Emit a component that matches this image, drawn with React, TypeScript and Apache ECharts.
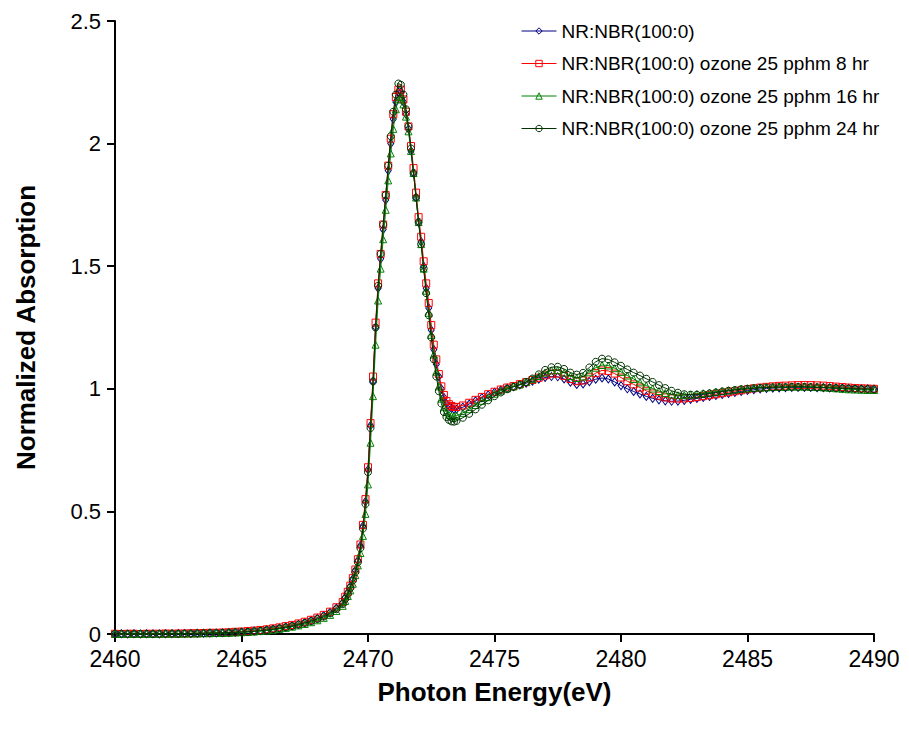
import React, { useEffect, useRef } from "react";
import * as echarts from "echarts";

// Photon energy grid (eV)
const energyPre = [
  2460, 2460.25, 2460.5, 2460.75, 2461, 2461.25, 2461.5, 2461.75, 2462, 2462.25, 2462.5, 2462.75,
  2463, 2463.25, 2463.5, 2463.75, 2464, 2464.25, 2464.5, 2464.75, 2465, 2465.25, 2465.5, 2465.75,
  2466, 2466.25, 2466.5, 2466.75, 2467, 2467.25, 2467.5, 2467.75, 2468, 2468.25, 2468.5, 2468.75,
  2469,
];
const energyEdge = [
  2469.1, 2469.2, 2469.3, 2469.4, 2469.5, 2469.6, 2469.7, 2469.8, 2469.9, 2470.0,
  2470.1, 2470.2, 2470.3, 2470.4, 2470.5, 2470.6, 2470.7, 2470.8, 2470.9, 2471.0,
  2471.1, 2471.2, 2471.3, 2471.4, 2471.5, 2471.6, 2471.7, 2471.8, 2471.9, 2472.0,
  2472.1, 2472.2, 2472.3, 2472.4, 2472.5, 2472.6, 2472.7, 2472.8, 2472.9, 2473.0,
  2473.1, 2473.2, 2473.3, 2473.4, 2473.5,
];
const energyPost = [
  2473.75,
  2474, 2474.25, 2474.5, 2474.75, 2475, 2475.25, 2475.5, 2475.75,
  2476, 2476.25, 2476.5, 2476.75, 2477, 2477.25, 2477.5, 2477.75,
  2478, 2478.25, 2478.5, 2478.75, 2479, 2479.25, 2479.5, 2479.75,
  2480, 2480.25, 2480.5, 2480.75, 2481, 2481.25, 2481.5, 2481.75,
  2482, 2482.25, 2482.5, 2482.75, 2483, 2483.25, 2483.5, 2483.75,
  2484, 2484.25, 2484.5, 2484.75, 2485, 2485.25, 2485.5, 2485.75,
  2486, 2486.25, 2486.5, 2486.75, 2487, 2487.25, 2487.5, 2487.75,
  2488, 2488.25, 2488.5, 2488.75, 2489, 2489.25, 2489.5, 2489.75,
  2490,
];

// NR:NBR(100:0)
const unaged = [
  0.000, 0.001, 0.000, 0.001, 0.000, 0.001, 0.001, 0.000, 0.001, 0.001, 0.002, 0.002,
  0.002, 0.003, 0.003, 0.004, 0.004, 0.005, 0.006, 0.007, 0.008, 0.010, 0.012, 0.014,
  0.017, 0.020, 0.024, 0.029, 0.034, 0.040, 0.047, 0.055, 0.064, 0.075, 0.088, 0.106,
  0.128,
  0.15, 0.17, 0.195, 0.225, 0.26, 0.30, 0.36, 0.44, 0.54, 0.67,
  0.85, 1.03, 1.25, 1.41, 1.53, 1.65, 1.77, 1.89, 2.00, 2.10,
  2.17, 2.21, 2.21, 2.17, 2.12, 2.06, 1.97, 1.88, 1.78, 1.68,
  1.60, 1.50, 1.41, 1.33, 1.24, 1.16, 1.10, 1.05, 1.00, 0.965,
  0.94, 0.928, 0.92, 0.916, 0.917,
  0.925,
  0.938, 0.951, 0.964, 0.975, 0.986, 0.995, 1.003, 1.009,
  1.016, 1.023, 1.031, 1.039, 1.046, 1.050, 1.049, 1.040,
  1.027, 1.018, 1.020, 1.029, 1.039, 1.044, 1.040, 1.028,
  1.013, 1.000, 0.989, 0.979, 0.969, 0.961, 0.955, 0.951,
  0.949, 0.950, 0.953, 0.957, 0.961, 0.965, 0.969, 0.973,
  0.977, 0.981, 0.985, 0.989, 0.993, 0.996, 0.999, 1.001,
  1.003, 1.004, 1.005, 1.006, 1.006, 1.006, 1.006, 1.005,
  1.005, 1.004, 1.004, 1.003, 1.002, 1.001, 1.000, 1.000,
  0.999,
];

// ozone 25 pphm 8 hr
const ozone8 = [
  0.001, 0.000, 0.001, 0.001, 0.000, 0.001, 0.001, 0.001, 0.002, 0.001, 0.002, 0.002,
  0.003, 0.003, 0.004, 0.005, 0.005, 0.006, 0.007, 0.009, 0.010, 0.012, 0.014, 0.016,
  0.019, 0.023, 0.027, 0.032, 0.037, 0.043, 0.050, 0.058, 0.067, 0.078, 0.091, 0.109,
  0.13,
  0.152, 0.172, 0.197, 0.228, 0.263, 0.305, 0.365, 0.445, 0.55, 0.68,
  0.86, 1.05, 1.27, 1.43, 1.55, 1.67, 1.79, 1.91, 2.02, 2.12,
  2.19, 2.22, 2.22, 2.18, 2.13, 2.07, 1.99, 1.90, 1.80, 1.70,
  1.62, 1.52, 1.43, 1.35, 1.26, 1.18, 1.12, 1.06, 1.01, 0.975,
  0.95, 0.937, 0.93, 0.926, 0.926,
  0.932,
  0.943, 0.955, 0.967, 0.978, 0.988, 0.997, 1.005, 1.011,
  1.019, 1.027, 1.036, 1.045, 1.055, 1.062, 1.062, 1.053,
  1.040, 1.031, 1.034, 1.047, 1.064, 1.075, 1.073, 1.062,
  1.046, 1.031, 1.018, 1.005, 0.992, 0.981, 0.972, 0.965,
  0.961, 0.960, 0.961, 0.963, 0.966, 0.970, 0.974, 0.978,
  0.982, 0.986, 0.990, 0.994, 0.998, 1.002, 1.005, 1.008,
  1.010, 1.012, 1.013, 1.014, 1.015, 1.015, 1.015, 1.014,
  1.013, 1.011, 1.009, 1.007, 1.005, 1.003, 1.002, 1.001,
  1.0,
];

// ozone 25 pphm 16 hr
const ozone16 = [
  0.000, 0.000, 0.001, 0.000, 0.001, 0.000, 0.001, 0.001, 0.001, 0.001, 0.001, 0.002,
  0.002, 0.002, 0.003, 0.003, 0.004, 0.004, 0.005, 0.006, 0.007, 0.008, 0.010, 0.012,
  0.014, 0.017, 0.021, 0.025, 0.030, 0.035, 0.041, 0.048, 0.056, 0.066, 0.078, 0.094,
  0.115,
  0.135, 0.155, 0.178, 0.205, 0.24, 0.28, 0.33, 0.40, 0.49, 0.61,
  0.78, 0.97, 1.18, 1.36, 1.49, 1.61, 1.73, 1.85, 1.96, 2.06,
  2.14, 2.18, 2.19, 2.16, 2.11, 2.05, 1.97, 1.88, 1.78, 1.68,
  1.59, 1.49, 1.40, 1.31, 1.22, 1.14, 1.07, 1.01, 0.96, 0.925,
  0.905, 0.894, 0.889, 0.888, 0.891,
  0.902,
  0.917, 0.934, 0.951, 0.966, 0.980, 0.992, 1.002, 1.010,
  1.018, 1.028, 1.039, 1.052, 1.066, 1.075, 1.076, 1.066,
  1.052, 1.044, 1.050, 1.067, 1.086, 1.097, 1.095, 1.084,
  1.069, 1.054, 1.040, 1.026, 1.013, 1.001, 0.991, 0.983,
  0.977, 0.974, 0.974, 0.976, 0.979, 0.982, 0.985, 0.988,
  0.991, 0.994, 0.997, 1.000, 1.002, 1.004, 1.005, 1.006,
  1.007, 1.008, 1.008, 1.009, 1.009, 1.009, 1.008, 1.007,
  1.006, 1.004, 1.002, 1.000, 0.998, 0.997, 0.996, 0.995,
  0.995,
];

// ozone 25 pphm 24 hr
const ozone24 = [
  0.001, 0.001, 0.000, 0.001, 0.001, 0.001, 0.000, 0.001, 0.001, 0.002, 0.001, 0.002,
  0.002, 0.003, 0.003, 0.004, 0.004, 0.005, 0.006, 0.007, 0.008, 0.009, 0.011, 0.013,
  0.016, 0.019, 0.023, 0.027, 0.032, 0.038, 0.045, 0.052, 0.061, 0.071, 0.084, 0.101,
  0.122,
  0.143, 0.163, 0.188, 0.218, 0.252, 0.293, 0.35, 0.43, 0.53, 0.66,
  0.84, 1.03, 1.25, 1.42, 1.55, 1.67, 1.79, 1.91, 2.03, 2.13,
  2.20, 2.245, 2.24, 2.20, 2.14, 2.07, 1.98, 1.88, 1.78, 1.68,
  1.59, 1.49, 1.39, 1.30, 1.21, 1.12, 1.05, 0.99, 0.94, 0.905,
  0.885, 0.873, 0.867, 0.866, 0.869,
  0.882,
  0.898, 0.916, 0.935, 0.953, 0.970, 0.985, 0.998, 1.008,
  1.017, 1.028, 1.042, 1.059, 1.077, 1.088, 1.090, 1.081,
  1.066, 1.058, 1.065, 1.087, 1.110, 1.123, 1.120, 1.108,
  1.094, 1.079, 1.066, 1.054, 1.041, 1.028, 1.015, 1.003,
  0.992, 0.984, 0.978, 0.976, 0.976, 0.978, 0.981, 0.985,
  0.989, 0.992, 0.995, 0.998, 1.000, 1.002, 1.004, 1.005,
  1.006, 1.007, 1.007, 1.008, 1.008, 1.008, 1.007, 1.006,
  1.005, 1.004, 1.003, 1.002, 1.001, 1.000, 0.999, 0.999,
  0.998,
];

const seriesNames = [
  "NR:NBR(100:0)",
  "NR:NBR(100:0) ozone 25 pphm 8 hr",
  "NR:NBR(100:0) ozone 25 pphm 16 hr",
  "NR:NBR(100:0) ozone 25 pphm 24 hr",
];
const seriesColors = ["#000080", "#FF0000", "#008000", "#003300"];
const seriesSymbols = ["diamond", "rect", "triangle", "circle"];
const seriesSymbolSizes: any[] = [[6, 8], 7, 7, 7];
const yTicks = [0, 0.5, 1, 1.5, 2, 2.5];
const xTicks = [2460, 2465, 2470, 2475, 2480, 2485, 2490];

const FONT = "'Liberation Sans', Arial, sans-serif";
const HOLLOW = "rgba(255,255,255,0)";

export default function App() {
  const ref = useRef<HTMLDivElement>(null);
  useEffect(() => {
    if (!ref.current) return;
    const chart = echarts.init(ref.current, null, { renderer: "svg" });
    const energy = [...energyPre, ...energyEdge, ...energyPost];
    const allY = [unaged, ozone8, ozone16, ozone24];
    const series = allY.map((ys, k) => ({
      name: seriesNames[k],
      type: "line",
      data: energy.map((x, i) => [x, ys[i]]),
      symbol: seriesSymbols[k],
      symbolSize: seriesSymbolSizes[k],
      showSymbol: true,
      showAllSymbol: true,
      lineStyle: { color: seriesColors[k], width: 1 },
      itemStyle: { color: HOLLOW, borderColor: seriesColors[k], borderWidth: 1 },
      emphasis: { disabled: true },
      z: 2 + k,
    }));
    chart.setOption({
      animation: false,
      backgroundColor: "#ffffff",
      textStyle: { fontFamily: FONT },
      grid: { left: 115, right: 35, top: 21, bottom: 99, containLabel: false },
      legend: {
        data: seriesNames.map((n, k) => ({
          name: n,
          itemStyle: { color: HOLLOW, borderColor: seriesColors[k], borderWidth: 1 },
          lineStyle: { color: seriesColors[k], width: 1 },
        })),
        orient: "vertical",
        left: 521,
        top: 21,
        padding: 0,
        itemWidth: 35,
        itemHeight: 8,
        itemGap: 12.5,
        selectedMode: false,
        textStyle: { fontSize: 19, color: "#000", fontFamily: FONT, lineHeight: 20 },
      },
      xAxis: {
        type: "value",
        min: xTicks[0],
        max: xTicks[xTicks.length - 1],
        interval: 5,
        name: "Photon Energy(eV)",
        nameLocation: "middle",
        nameGap: 45,
        nameTextStyle: { fontSize: 26, fontWeight: "bold", color: "#000", fontFamily: FONT },
        axisLine: { lineStyle: { color: "#000", width: 2 } },
        axisTick: { show: true, length: 8, inside: false, lineStyle: { color: "#000", width: 2 } },
        axisLabel: {
          fontSize: 23,
          color: "#000",
          margin: 13,
          fontFamily: FONT,
          formatter: (v: number) => String(v),
        },
        splitLine: { show: false },
      },
      yAxis: {
        type: "value",
        min: yTicks[0],
        max: yTicks[yTicks.length - 1],
        interval: 0.5,
        name: "Normalized Absorption",
        nameLocation: "middle",
        nameGap: 76,
        nameTextStyle: { fontSize: 26, fontWeight: "bold", color: "#000", fontFamily: FONT },
        axisLine: { show: true, lineStyle: { color: "#000", width: 2 } },
        axisTick: { show: true, length: 8, inside: false, lineStyle: { color: "#000", width: 2 } },
        axisLabel: {
          fontSize: 22,
          lineHeight: 16,
          color: "#000",
          margin: 14,
          fontFamily: FONT,
          formatter: (v: number) => String(v),
        },
        splitLine: { show: false },
      },
      series,
    });
    return () => chart.dispose();
  }, []);
  return (
    <div
      ref={ref}
      style={{ position: "absolute", left: 0, top: 0, width: 909, height: 733, background: "#fff" }}
    />
  );
}
